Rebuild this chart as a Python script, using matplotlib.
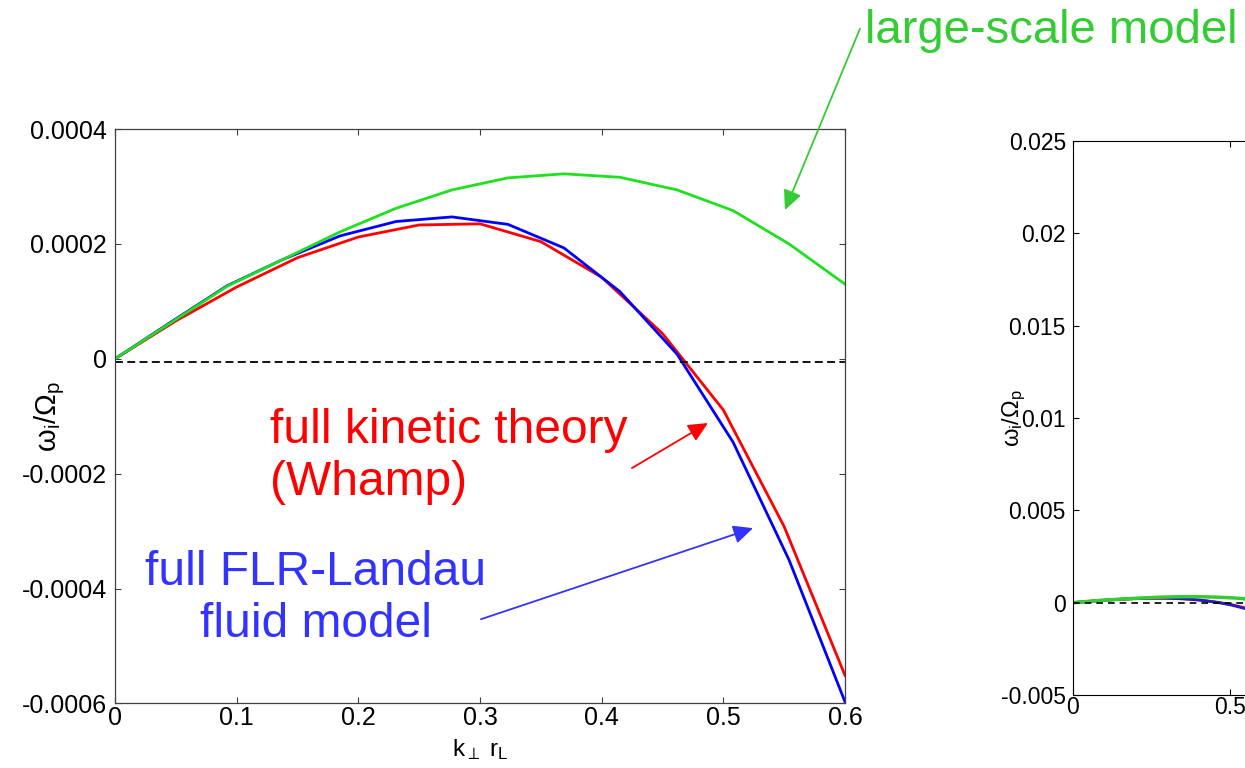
import numpy as np
import matplotlib
matplotlib.use('Agg')
import matplotlib.pyplot as plt

plt.rcParams['font.family'] = 'Liberation Sans'
plt.rcParams['mathtext.fontset'] = 'custom'
plt.rcParams['mathtext.rm'] = 'Liberation Sans'
plt.rcParams['mathtext.it'] = 'Liberation Sans:italic'

# growth rate vs k_perp r_L for the three models
k_fluid = [0, 0.046, 0.092, 0.138, 0.185, 0.231, 0.277, 0.323, 0.369, 0.415, 0.462, 0.508, 0.554, 0.6]
large_scale = [0, 0.63e-4, 1.26e-4, 1.73e-4, 2.21e-4, 2.62e-4, 2.94e-4, 3.15e-4, 3.22e-4, 3.16e-4,
               2.94e-4, 2.58e-4, 2.00e-4, 1.30e-4]
flr_landau = [0, 0.64e-4, 1.27e-4, 1.73e-4, 2.14e-4, 2.39e-4, 2.47e-4, 2.34e-4, 1.93e-4, 1.17e-4,
              0.08e-4, -1.45e-4, -3.50e-4, -5.97e-4]
k_whamp = [0, 0.05, 0.1, 0.15, 0.2, 0.25, 0.3, 0.35, 0.4, 0.45, 0.5, 0.55, 0.6]
whamp = [0, 0.66e-4, 1.25e-4, 1.76e-4, 2.12e-4, 2.33e-4, 2.35e-4, 2.04e-4, 1.42e-4, 0.44e-4,
         -0.89e-4, -2.92e-4, -5.51e-4]

zero_line = -6e-6

left_yticks = [-0.0006, -0.0004, -0.0002, 0, 0.0002, 0.0004]
left_ylabels = ['-0.0006', '-0.0004', '-0.0002', '0', '0.0002', '0.0004']
left_xticks = [0, 0.1, 0.2, 0.3, 0.4, 0.5, 0.6]
left_xlabels = ['0', '0.1', '0.2', '0.3', '0.4', '0.5', '0.6']

right_yticks = [-0.005, 0, 0.005, 0.01, 0.015, 0.02, 0.025]
right_ylabels = ['-0.005', '0', '0.005', '0.01', '0.015', '0.02', '0.025']
right_xticks = [0, 0.5, 1, 1.5]
right_xlabels = ['0', '0.5', '1', '1.5']

fig = plt.figure(figsize=(12.45, 7.68), dpi=100)

# left panel
ax = fig.add_axes([0.0924, 0.0840, 0.5863, 0.7480])
ax.plot(k_whamp, whamp, color='red', lw=2)
ax.plot(k_fluid, flr_landau, color='blue', lw=2)
ax.plot(k_fluid, large_scale, color='#1fe01f', lw=2)
ax.axhline(zero_line, color='black', ls='--', lw=1.3, dashes=(4.4, 2.4))
ax.set_xlim(0, 0.6)
ax.set_ylim(-0.0006, 0.0004)
ax.set_xticks(left_xticks)
ax.set_xticklabels(left_xlabels)
ax.set_yticks(left_yticks)
ax.set_yticklabels(left_ylabels)
ax.tick_params(direction='in', top=True, right=True, length=4.5, width=0.8,
               labelsize=18, color='#404040')
ax.tick_params(axis='x', pad=2)
ax.tick_params(axis='y', pad=6)
for s in ax.spines.values():
    s.set_color('#404040')
    s.set_linewidth(0.9)
ax.set_ylabel(r'$\mathrm{\omega_i/\Omega_p}$', fontsize=21)
ax.yaxis.set_label_coords(-0.066, 0.5)
ax.set_xlabel(r'$\mathrm{k_\perp\ r_L}$', fontsize=17.5)
ax.xaxis.set_label_coords(0.5, -0.058)

# labels and arrows (va='baseline' sits on the last line)
ax.text(0.1274, -2.373e-4, 'full kinetic theory\n(Whamp)', color='red', fontsize=34.5,
        ha='left', va='baseline', linespacing=1.2)
ax.text(0.1652, -4.846e-4, 'full FLR-Landau\nfluid model', color='#3333ff', fontsize=34.5,
        ha='center', va='baseline', multialignment='center', linespacing=1.2)
ax.text(0.6164, 5.50e-4, 'large-scale model', color='#33cc33', fontsize=34,
        ha='left', va='baseline', clip_on=False)

arrow = dict(arrowstyle='-|>,head_length=0.85,head_width=0.4', mutation_scale=14, lw=1.3,
             shrinkA=0, shrinkB=0)
ax.annotate('', xy=(0.4874, -1.118e-4), xytext=(0.4249, -1.902e-4),
            arrowprops=dict(arrow, color='red'))
ax.annotate('', xy=(0.5244, -2.948e-4), xytext=(0.3008, -4.533e-4),
            arrowprops=dict(arrow, color='#3333ff'))
ax.annotate('', xy=(0.5507, 2.59e-4), xytext=(0.6123, 5.745e-4),
            arrowprops=dict(arrow, color='#33cc33'), annotation_clip=False)

# right panel, wider range (runs off the edge)
ax2 = fig.add_axes([0.8618, 0.0951, 0.3783, 0.7214])
ax2.plot(k_whamp, whamp, color='red', lw=2)
ax2.plot(k_fluid, flr_landau, color='#2020c0', lw=2)
ax2.plot(k_fluid, large_scale, color='#33cc33', lw=2.5)
ax2.axhline(0, color='black', ls='--', lw=1.2, dashes=(4, 3))
ax2.set_xlim(0, 1.5)
ax2.set_ylim(-0.005, 0.025)
ax2.set_xticks(right_xticks)
ax2.set_xticklabels(right_xlabels)
ax2.set_yticks(right_yticks)
ax2.set_yticklabels(right_ylabels)
ax2.tick_params(direction='in', top=True, right=True, length=4.5, width=0.8,
                labelsize=16.5, pad=5)
ax2.tick_params(axis='x', pad=1)
ax2.set_ylabel(r'$\mathrm{\omega_i/\Omega_p}$', fontsize=17)
ax2.yaxis.set_label_coords(-0.095, 0.5)

fig.savefig('out.png', dpi=100)
